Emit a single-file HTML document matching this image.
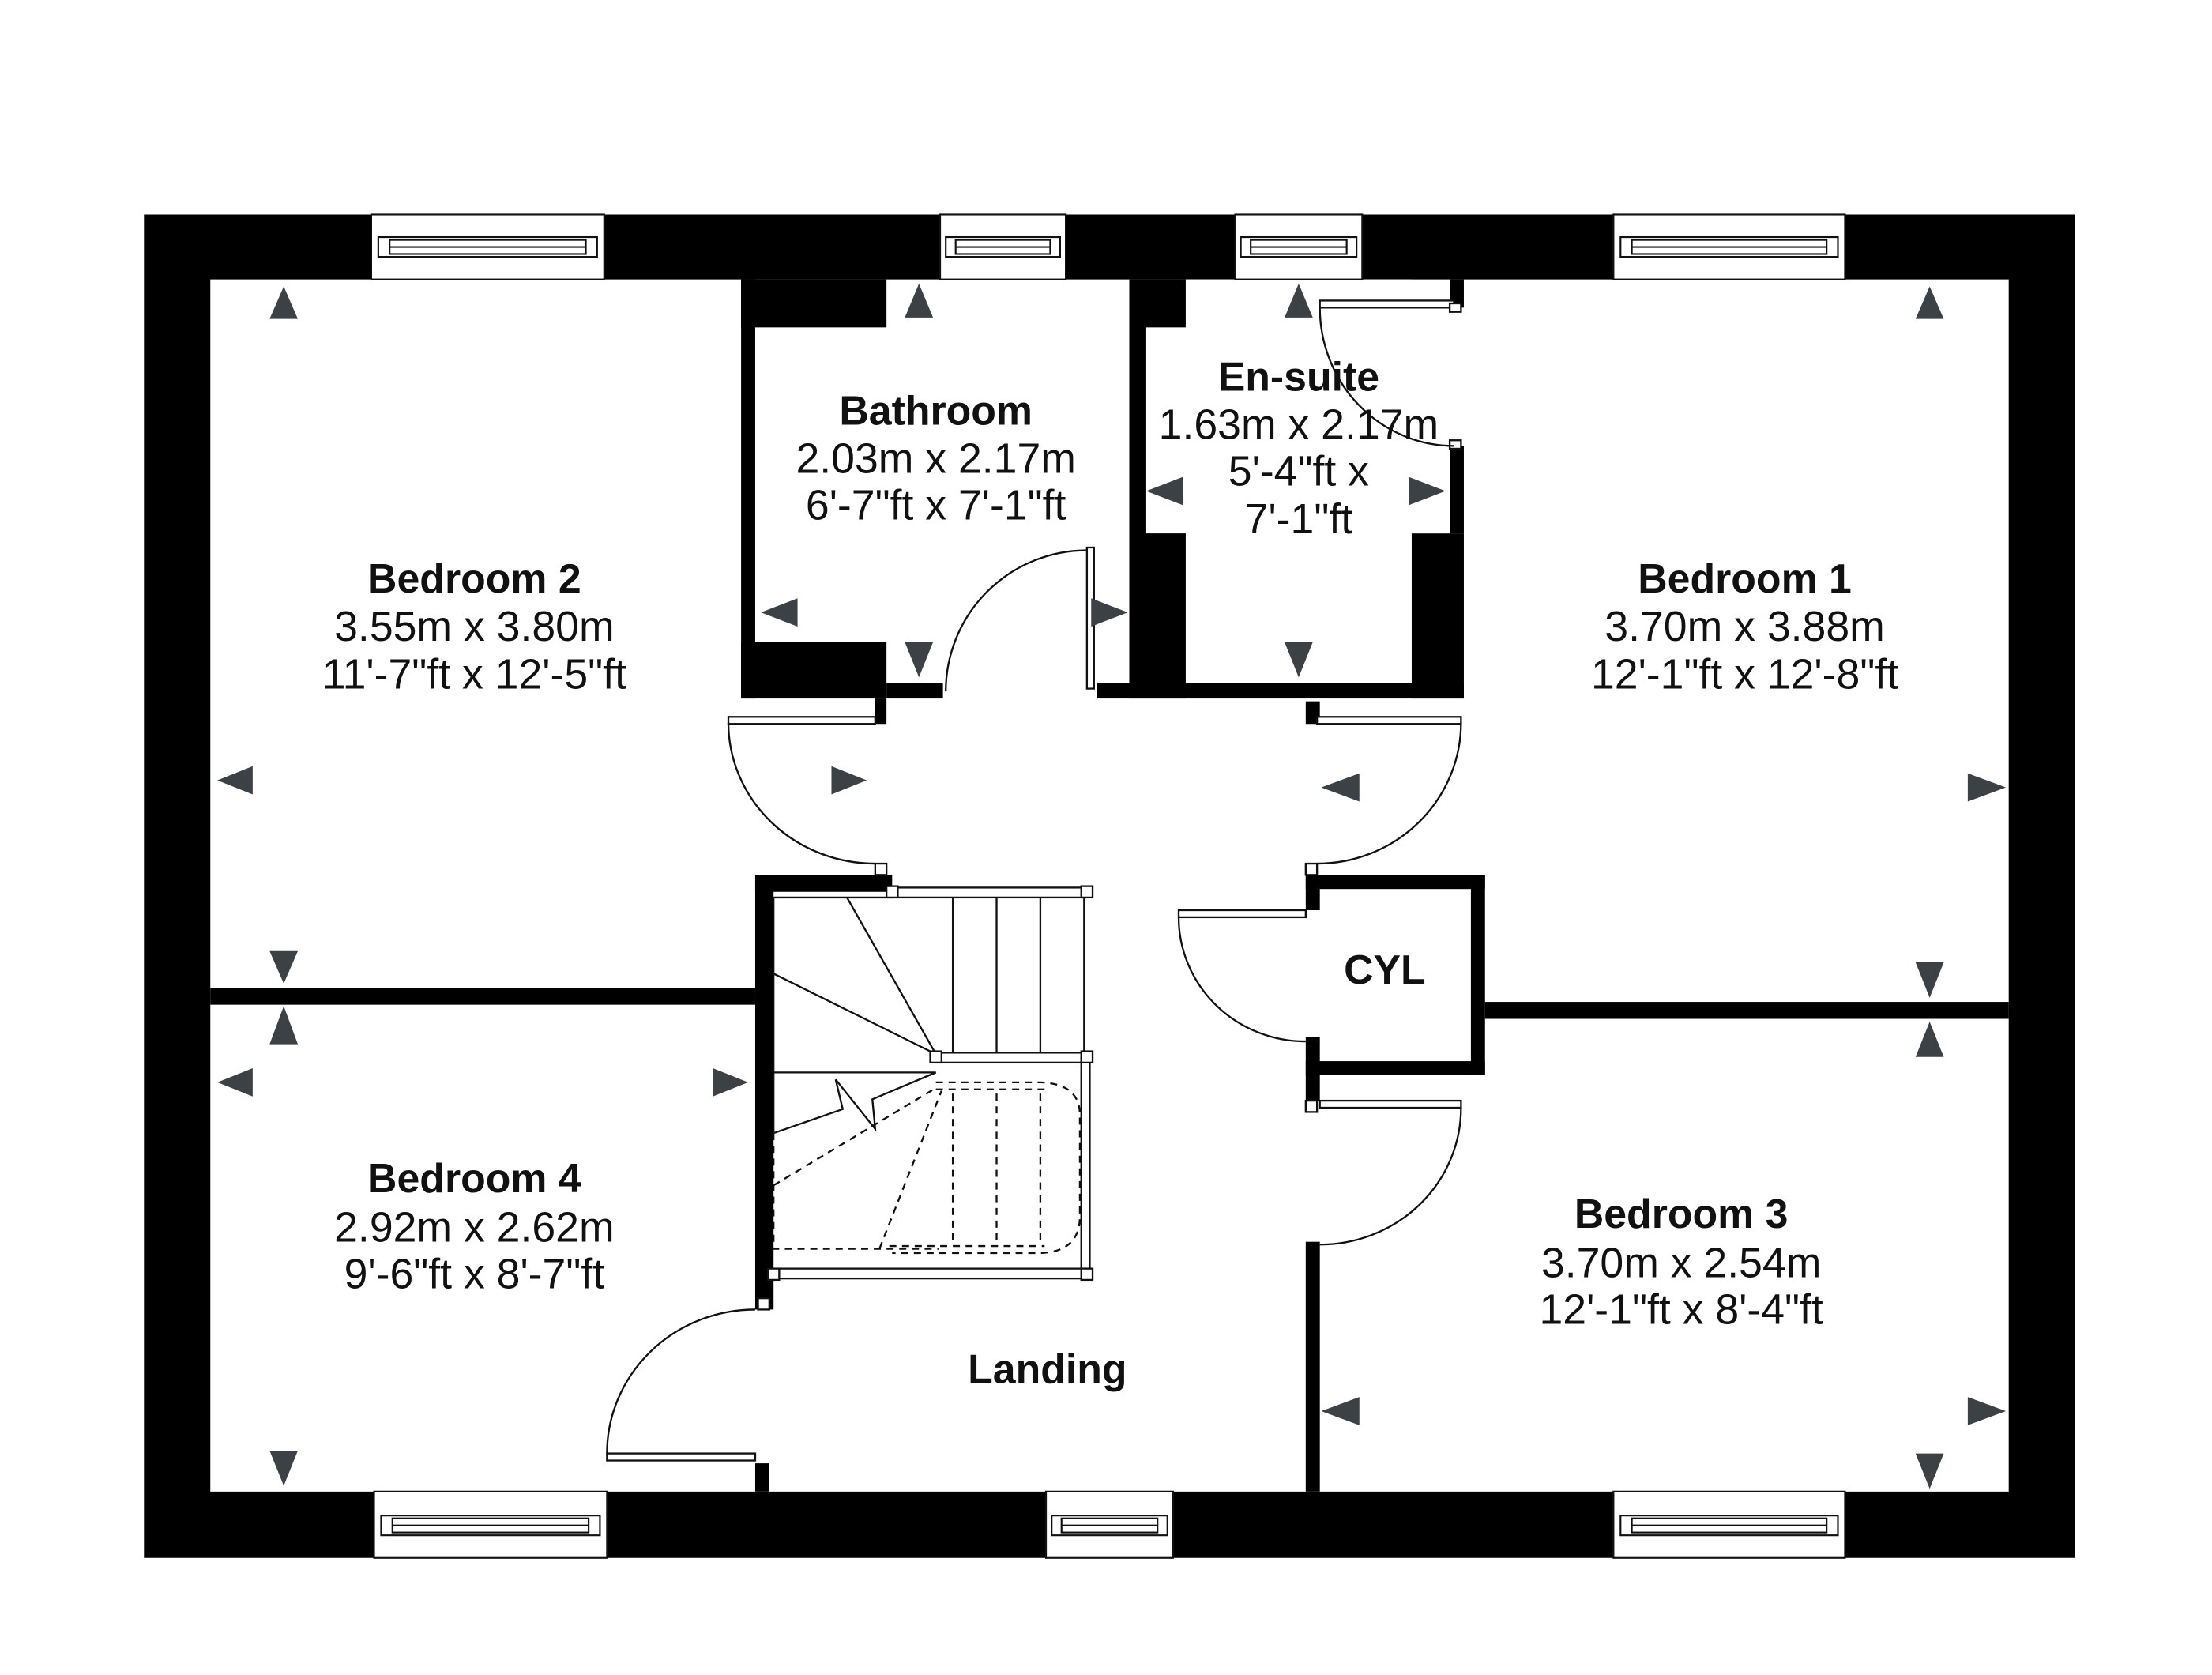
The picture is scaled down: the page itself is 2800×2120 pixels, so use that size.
<!DOCTYPE html>
<html><head><meta charset="utf-8"><style>
html,body{margin:0;padding:0;background:#fff;}
svg{display:block;}
text{font-family:"Liberation Sans",sans-serif;fill:#111;text-anchor:middle;}
.b{font-weight:bold;font-size:29px;}
.d{font-size:30px;}
</style></head><body>
<svg width="2800" height="2120" viewBox="0 0 1567 1187" preserveAspectRatio="none" xmlns="http://www.w3.org/2000/svg">
<rect width="1567" height="1187" fill="#fff"/>
<g fill="#000">
<path fill-rule="evenodd" d="M102,152H1470V1104H102Z M149,198V1057H1423V198Z"/>
<rect x="525" y="198" width="10" height="297"/>
<rect x="525" y="198" width="103" height="34"/>
<rect x="525" y="455" width="103" height="40"/>
<rect x="628" y="484" width="40" height="11"/>
<rect x="800" y="198" width="40" height="297"/>
<rect x="777" y="484" width="260" height="11"/>
<rect x="1000" y="378" width="37" height="117"/>
<rect x="1027" y="316" width="10" height="62"/>
<rect x="1027" y="198" width="10" height="20"/>
<rect x="149" y="700" width="386" height="12"/>
<rect x="535" y="620" width="13" height="308"/>
<rect x="535" y="620" width="97" height="12"/>
<rect x="535" y="1037" width="10" height="20"/>
<rect x="925" y="620" width="10" height="25"/>
<rect x="925" y="735" width="10" height="45"/>
<rect x="925" y="620" width="127" height="10"/>
<rect x="1042" y="620" width="10" height="142"/>
<rect x="925" y="752" width="127" height="10"/>
<rect x="1052" y="710" width="371" height="12"/>
<rect x="925" y="880" width="10" height="177"/>
<rect x="925" y="497" width="10" height="16"/>
<rect x="620" y="495" width="8" height="18"/>
</g>
<rect x="840" y="198" width="160" height="286" fill="#fff"/>
<rect x="812" y="232" width="215" height="146" fill="#fff"/>
<g fill="#fff" stroke="#111" stroke-width="1.2">
<rect x="263" y="152" width="165" height="46"/><rect x="268" y="168" width="155" height="14"/><rect x="276" y="170" width="139" height="10"/><line x1="276" y1="175" x2="415" y2="175"/>
<rect x="666" y="152" width="89" height="46"/><rect x="670" y="168" width="81" height="14"/><rect x="677" y="170" width="67" height="10"/><line x1="677" y1="175" x2="744" y2="175"/>
<rect x="875" y="152" width="90" height="46"/><rect x="879" y="168" width="82" height="14"/><rect x="886" y="170" width="68" height="10"/><line x1="886" y1="175" x2="954" y2="175"/>
<rect x="1143" y="152" width="164" height="46"/><rect x="1148" y="168" width="154" height="14"/><rect x="1156" y="170" width="138" height="10"/><line x1="1156" y1="175" x2="1294" y2="175"/>
<rect x="265" y="1057" width="165" height="47"/><rect x="270" y="1074" width="155" height="14"/><rect x="278" y="1076" width="139" height="10"/><line x1="278" y1="1081" x2="417" y2="1081"/>
<rect x="741" y="1057" width="90" height="47"/><rect x="745" y="1074" width="82" height="14"/><rect x="752" y="1076" width="68" height="10"/><line x1="752" y1="1081" x2="820" y2="1081"/>
<rect x="1143" y="1057" width="164" height="47"/><rect x="1148" y="1074" width="154" height="14"/><rect x="1156" y="1076" width="138" height="10"/><line x1="1156" y1="1081" x2="1294" y2="1081"/>
</g>
<g fill="#fff" stroke="#111" stroke-width="1.3">
<rect x="770" y="388" width="5" height="100"/>
<rect x="516" y="508" width="104" height="5"/>
<rect x="933" y="508" width="102" height="5"/>
<rect x="835" y="645" width="90" height="5"/>
<rect x="935" y="780" width="100" height="5"/>
<rect x="430" y="1030" width="105" height="5"/>
<rect x="935" y="213" width="95" height="5"/>
<rect x="620" y="612" width="8" height="8"/>
<rect x="925" y="612" width="8" height="8"/>
<rect x="925" y="780" width="8" height="8"/>
<rect x="537" y="920" width="8" height="8"/>
<rect x="1027" y="312" width="8" height="6"/>
<rect x="1027" y="215" width="8" height="6"/>
</g>
<g fill="none" stroke="#111" stroke-width="1.3">
<path d="M770,390 A100,100 0 0 0 670,490"/>
<path d="M516,512 A104,100 0 0 0 620,612"/>
<path d="M1035,512 A102,100 0 0 1 933,612"/>
<path d="M835,650 A90,88 0 0 0 925,738"/>
<path d="M1035,785 A100,97 0 0 1 935,882"/>
<path d="M430,1030 A105,102 0 0 1 535,928"/>
<path d="M935,218 A95,98 0 0 0 1030,316"/>
</g>
<g fill="none" stroke="#111" stroke-width="1.3">
<rect x="632" y="629" width="138" height="7" fill="#fff"/>
<rect x="663" y="746" width="107" height="7" fill="#fff"/>
<rect x="766" y="749" width="6" height="154" fill="#fff"/>
<rect x="548" y="899" width="222" height="7" fill="#fff"/>
<line x1="548" y1="636" x2="548" y2="803"/>
<line x1="548" y1="636" x2="632" y2="636"/>
<line x1="768" y1="636" x2="768" y2="746"/>
<line x1="675" y1="636" x2="675" y2="746"/><line x1="706" y1="636" x2="706" y2="746"/><line x1="737" y1="636" x2="737" y2="746"/>
<line x1="600" y1="636" x2="663" y2="747"/>
<line x1="548" y1="690" x2="663" y2="747"/>
<line x1="548" y1="760" x2="663" y2="760"/>
<polyline points="548,803 597,786 592,765 620,800 618,779 663,760"/>
<rect x="659" y="745" width="8" height="8" fill="#fff"/>
<rect x="628" y="628" width="8" height="8" fill="#fff"/>
<rect x="766" y="628" width="8" height="8" fill="#fff"/>
<rect x="766" y="745" width="8" height="8" fill="#fff"/>
<rect x="544" y="899" width="8" height="8" fill="#fff"/>
<rect x="766" y="899" width="8" height="8" fill="#fff"/>
<g stroke-dasharray="5,4">
<path d="M548,803 V885 H665"/>
<line x1="548" y1="840" x2="663" y2="771"/>
<line x1="623" y1="885" x2="667" y2="773"/>
<line x1="675" y1="775" x2="675" y2="882"/><line x1="706" y1="775" x2="706" y2="882"/><line x1="737" y1="775" x2="737" y2="882"/>
<path d="M663,767 H737 Q765,768 765,790 V862 Q765,887 737,888 H632"/>
<path d="M663,772 H740"/>
<path d="M630,883 H740"/>
</g>
</g>
<g fill="#3c4146">
<path d="M201,203 L211,226 L191,226Z"/><path d="M154,553 L179,543 L179,563Z"/><path d="M201,697 L211,674 L191,674Z"/><path d="M614,553 L589,543 L589,563Z"/>
<path d="M201,713 L211,740 L191,740Z"/><path d="M154,767 L179,757 L179,777Z"/><path d="M530,767 L505,757 L505,777Z"/><path d="M201,1053 L211,1028 L191,1028Z"/>
<path d="M651,201 L661,225 L641,225Z"/><path d="M539,434 L565,424 L565,444Z"/><path d="M651,480 L661,455 L641,455Z"/><path d="M799,434 L773,424 L773,444Z"/>
<path d="M920,201 L930,225 L910,225Z"/><path d="M812,348 L838,338 L838,358Z"/><path d="M1024,348 L998,338 L998,358Z"/><path d="M920,480 L930,455 L910,455Z"/>
<path d="M1367,203 L1377,226 L1357,226Z"/><path d="M936,558 L963,548 L963,568Z"/><path d="M1421,558 L1394,548 L1394,568Z"/><path d="M1367,707 L1377,682 L1357,682Z"/>
<path d="M1367,724 L1377,749 L1357,749Z"/><path d="M936,1000 L963,990 L963,1010Z"/><path d="M1421,1000 L1394,990 L1394,1010Z"/><path d="M1367,1055 L1377,1030 L1357,1030Z"/>
</g>
<text class="b" x="663" y="301">Bathroom</text>
<text class="d" x="663" y="335">2.03m x 2.17m</text>
<text class="d" x="663" y="368">6'-7"ft x 7'-1"ft</text>
<text class="b" x="920" y="277">En-suite</text>
<text class="d" x="920" y="311">1.63m x 2.17m</text>
<text class="d" x="920" y="344">5'-4"ft x</text>
<text class="d" x="920" y="378">7'-1"ft</text>
<text class="b" x="336" y="420">Bedroom 2</text>
<text class="d" x="336" y="454">3.55m x 3.80m</text>
<text class="d" x="336" y="488">11'-7"ft x 12'-5"ft</text>
<text class="b" x="1236" y="420">Bedroom 1</text>
<text class="d" x="1236" y="454">3.70m x 3.88m</text>
<text class="d" x="1236" y="488">12'-1"ft x 12'-8"ft</text>
<text class="b" x="981" y="697">CYL</text>
<text class="b" x="336" y="845">Bedroom 4</text>
<text class="d" x="336" y="880">2.92m x 2.62m</text>
<text class="d" x="336" y="913">9'-6"ft x 8'-7"ft</text>
<text class="b" x="1191" y="870">Bedroom 3</text>
<text class="d" x="1191" y="905">3.70m x 2.54m</text>
<text class="d" x="1191" y="938">12'-1"ft x 8'-4"ft</text>
<text class="b" x="742" y="980">Landing</text>
</svg>
</body></html>
